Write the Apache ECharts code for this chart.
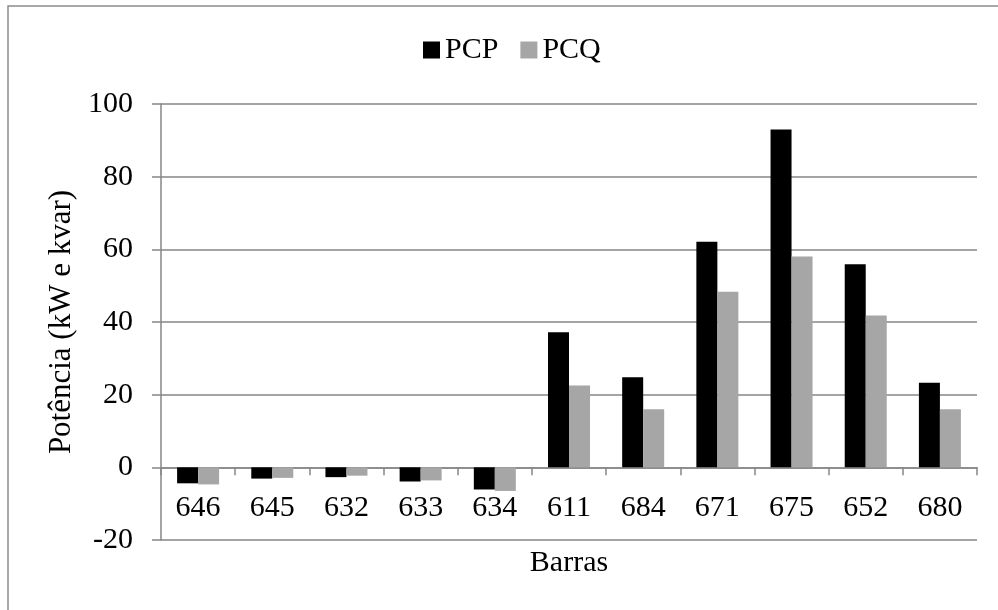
<!DOCTYPE html>
<html>
<head>
<meta charset="utf-8">
<script src="https://cdn.jsdelivr.net/npm/echarts@6/dist/echarts.min.js"></script>
<style>
  html, body { margin: 0; padding: 0; background: #fff; }
  #chart { width: 998px; height: 610px; }
</style>
</head>
<body>
<div id="chart"></div>
<script>
// Bus identifiers along the horizontal axis
const barras = ['646', '645', '632', '633', '634', '611', '684', '671', '675', '652', '680'];
// Power per bus (kW and kvar)
const pcp = [-4.4, -3.1, -2.7, -3.9, -6.1, 37.2, 24.8, 62.1, 93.0, 55.9, 23.3];
const pcq = [-4.7, -2.9, -2.3, -3.6, -6.5, 22.5, 16.0, 48.3, 58.0, 41.8, 16.0];
// Value axis range
const yMin = -20, yMax = 100, yStep = 20;

const font = "'Liberation Serif', 'Times New Roman', serif";
const fontSize = 30;
const gridColor = '#868686';

// Plot area in pixels
const gridTop = 104, gridBottom = 70, chartH = 610;
const gridH = chartH - gridTop - gridBottom;
// Category axis sits on the zero line: shift it up from the bottom edge
const zeroOffset = -gridH * (0 - yMin) / (yMax - yMin);

const chart = echarts.init(document.getElementById('chart'), null, { renderer: 'canvas' });
chart.setOption({
  animation: false,
  backgroundColor: '#ffffff',
  textStyle: { fontFamily: font },
  graphic: [{
    type: 'rect',
    shape: { x: 8, y: 6, width: 1000, height: 620 },
    style: { fill: 'none', stroke: '#8c8c8c', lineWidth: 1.5 },
    silent: true
  }],
  legend: {
    top: 30,
    left: 418,
    icon: 'rect',
    itemWidth: 17,
    itemHeight: 17,
    itemGap: 22,
    textStyle: { fontFamily: font, fontSize: fontSize, color: '#000' },
    data: ['PCP', 'PCQ']
  },
  grid: { left: 161, right: 21, top: gridTop, bottom: gridBottom, containLabel: false, outerBoundsMode: 'none' },
  xAxis: {
    type: 'category',
    data: barras,
    position: 'bottom',
    offset: zeroOffset,
    name: 'Barras',
    nameLocation: 'middle',
    nameGap: 81,
    nameTextStyle: { fontFamily: font, fontSize: fontSize, color: '#000' },
    axisLine: { onZero: false, lineStyle: { color: gridColor, width: 1.5 } },
    axisTick: { show: true, length: 8, inside: false, lineStyle: { color: gridColor, width: 1.5 } },
    axisLabel: { fontFamily: font, fontSize: fontSize, color: '#000', margin: 26 },
    splitLine: { show: false }
  },
  yAxis: {
    type: 'value',
    min: yMin,
    max: yMax,
    interval: yStep,
    name: 'Potência (kW e kvar)',
    nameLocation: 'middle',
    nameGap: 81,
    nameRotate: 90,
    nameTextStyle: { fontFamily: font, fontSize: 31, color: '#000' },
    axisLine: { show: true, lineStyle: { color: gridColor, width: 1.5 } },
    axisTick: { show: true, length: 9, lineStyle: { color: gridColor, width: 1.5 } },
    axisLabel: { fontFamily: font, fontSize: fontSize, color: '#000', margin: 28 },
    splitLine: { show: true, lineStyle: { color: gridColor, width: 1.5 } }
  },
  series: [
    {
      name: 'PCP',
      type: 'bar',
      data: pcp,
      barWidth: 21,
      barGap: '0%',
      itemStyle: { color: '#000000' }
    },
    {
      name: 'PCQ',
      type: 'bar',
      data: pcq,
      barWidth: 21,
      barGap: '0%',
      itemStyle: { color: '#a6a6a6' }
    }
  ]
});
</script>
</body>
</html>
